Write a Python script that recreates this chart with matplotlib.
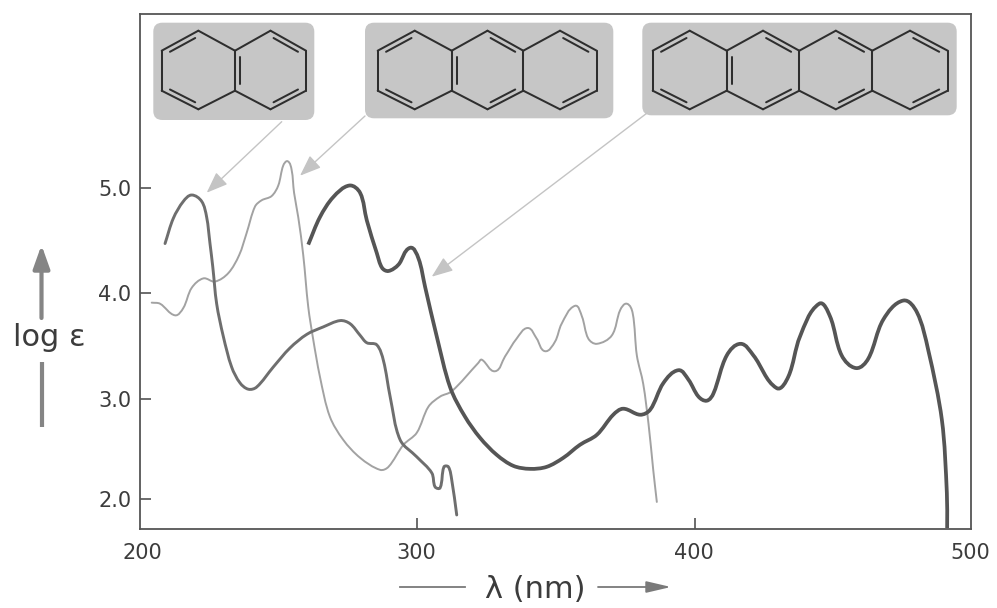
import numpy as np
import matplotlib
matplotlib.use("Agg")
import matplotlib.pyplot as plt
from matplotlib.patches import FancyBboxPatch, PathPatch
from matplotlib.path import Path

# ---------- data ----------
naph_x = [209.2,212.2,215.8,218.8,222.4,224.2,225.4,226.4,227.8,230.2,233.2,236.2,239.2,242.2,248.2,254.2,260.3,266.2,272.3,275.9,279.5,281.9,285.5,287.9,290.3,293.9,299.9,305.3,306.5,308.3,309.7,311.3,312.5,314.3]
naph_y = [4.47,4.71,4.87,4.93,4.87,4.72,4.47,4.25,3.90,3.59,3.30,3.15,3.09,3.11,3.30,3.48,3.61,3.68,3.74,3.71,3.60,3.53,3.51,3.36,3.02,2.59,2.42,2.26,2.12,2.11,2.32,2.32,2.19,1.84]

anth_x = [204.4,207.4,212.8,215.8,218.8,223.0,227.2,232.0,235.9,238.6,241.6,244.0,247.6,250.0,251.8,253.4,254.8,255.7,257.2,259.0,260.8,262.6,265.0,268.6,273.4,279.5,286.7,289.7,295.1,299.9,304.1,308.3,312.5,322.1,323.3,328.1,331.7,335.9,339.9,343.1,346.1,349.7,352.1,356.9,359.4,361.7,364.8,370.2,373.2,375.6,377.7,379.2,381.5,383.4,385.1,386.4]
anth_y = [3.91,3.90,3.79,3.86,4.05,4.14,4.11,4.19,4.36,4.57,4.82,4.88,4.92,5.02,5.21,5.25,5.17,4.95,4.72,4.36,3.87,3.56,3.21,2.82,2.59,2.41,2.29,2.32,2.54,2.66,2.92,3.02,3.07,3.34,3.37,3.26,3.40,3.57,3.67,3.57,3.45,3.54,3.71,3.88,3.78,3.57,3.52,3.60,3.84,3.90,3.81,3.41,3.14,2.75,2.29,1.97]

tetra_x = [260.8,265.0,269.8,275.6,279.5,281.9,285.5,287.4,289.7,293.3,297.5,300.5,302.9,307.1,311.9,317.3,322.7,328.7,334.7,340.7,346.7,352.7,358.7,364.8,370.7,374.3,380.4,384.0,388.8,394.2,397.8,401.4,404.4,406.8,411.6,416.6,421.2,429.6,433.8,438.0,444.9,448.8,453.0,458.2,462.6,468.0,475.2,480.1,484.2,489.1,490.9,491.0]
tetra_y = [4.46,4.72,4.91,5.02,4.95,4.69,4.38,4.24,4.21,4.27,4.43,4.33,4.06,3.59,3.11,2.82,2.61,2.44,2.33,2.30,2.32,2.41,2.54,2.64,2.84,2.90,2.84,2.89,3.15,3.27,3.18,3.02,2.98,3.05,3.41,3.52,3.41,3.10,3.21,3.59,3.90,3.78,3.41,3.29,3.38,3.75,3.93,3.82,3.46,2.79,2.06,1.71]

x_ticks = [200, 300, 400, 500]
y_ticks = [2.0, 3.0, 4.0, 5.0]
y_tick_labels = ["2.0", "3.0", "4.0", "5.0"]
x_label = "λ (nm)"
y_label = "log ε"

W, H = 997, 608
GREY_TXT = "#3c3c3c"
TICK_FS = 15
plt.rcParams["font.family"] = ["DejaVu Sans"]

fig = plt.figure(figsize=(W / 100, H / 100), dpi=100, facecolor="white")
L, R, T, B = 139.5, 971.0, 13.5, 529.0
ax = fig.add_axes([L / W, 1 - B / H, (R - L) / W, (B - T) / H])

# the printed log-axis ticks are not quite evenly spaced
def fwd(v):
    v = np.asarray(v, dtype=float)
    return np.where(v >= 3, (v - 3) * 105.6, (v - 3) * 100.3)
def inv(u):
    u = np.asarray(u, dtype=float)
    return np.where(u >= 0, 3 + u / 105.6, 3 + u / 100.3)
ax.set_yscale("function", functions=(fwd, inv))

def smooth_curve(xs, ys, color, lw, cap="round"):
    """Bezier curve through the read points: the points are the data, only the joins are rounded."""
    p = np.column_stack([xs, ys], ).astype(float)
    scale = np.array([2.775, 105.0])
    q = p * scale
    d = np.zeros_like(q)
    d[1:-1] = q[2:] - q[:-2]
    d[0] = q[1] - q[0]
    d[-1] = q[-1] - q[-2]
    d /= np.maximum(np.linalg.norm(d, axis=1, keepdims=True), 1e-9)
    verts, codes = [tuple(p[0])], [Path.MOVETO]
    for i in range(len(q) - 1):
        h = np.linalg.norm(q[i + 1] - q[i]) * 0.33
        c1 = (q[i] + d[i] * h) / scale
        c2 = (q[i + 1] - d[i + 1] * h) / scale
        verts += [tuple(c1), tuple(c2), tuple(p[i + 1])]
        codes += [Path.CURVE4] * 3
    ax.add_patch(PathPatch(Path(verts, codes), fill=False, edgecolor=color, lw=lw,
                           capstyle=cap, joinstyle="round"))

smooth_curve(anth_x, anth_y, "#a2a2a2", 1.4)
smooth_curve(naph_x, naph_y, "#6e6e6e", 2.1)
smooth_curve(tetra_x, tetra_y, "#555555", 2.7, cap="butt")

ax.set_xlim(200, 499.6)
ax.set_ylim(1.70, 6.65)
ax.set_xticks(x_ticks[1:3])
ax.set_yticks(y_ticks, y_tick_labels)
ax.tick_params(axis="both", direction="in", length=8, width=1.1, color="#444444",
               labelcolor=GREY_TXT, labelsize=TICK_FS)
ax.tick_params(axis="y", pad=6)
ax.set_xticklabels([])
for s in ax.spines.values():
    s.set_color("#555555")
    s.set_linewidth(1.3)

# ---------- overlay in reference pixel space ----------
ov = fig.add_axes([0, 0, 1, 1], facecolor="none")
ov.set_xlim(0, W)
ov.set_ylim(H, 0)
ov.axis("off")

for lab, px in zip(x_ticks, [142, 416, 694, 970]):
    ov.text(px, 553, str(lab), ha="center", va="center", fontsize=TICK_FS, color=GREY_TXT)

ov.text(535, 590, x_label, ha="center", va="center", fontsize=22, color=GREY_TXT)
ov.text(49.5, 338, y_label, ha="center", va="center", fontsize=22, color=GREY_TXT)

# axis-title arrows
ov.plot([400, 465], [587, 587], color="#7a7a7a", lw=1.3)
ov.annotate("", xy=(671, 587), xytext=(598, 587),
            arrowprops=dict(arrowstyle="-|>,head_length=1.5,head_width=0.35", color="#7a7a7a", lw=1.3, shrinkA=0, shrinkB=0))
ov.plot([41.5, 41.5], [362, 427], color="#858585", lw=3.0, solid_capstyle="butt")
ov.annotate("", xy=(41.5, 245), xytext=(41.5, 318),
            arrowprops=dict(arrowstyle="-|>,head_length=1.4,head_width=0.5", color="#858585", lw=3.0, shrinkA=0, shrinkB=0))

# molecule panels
panels = [(153.3, 314.3, 22.7, 120.0), (365.0, 613.3, 22.7, 118.3), (642.3, 956.7, 22.7, 115.3)]
for x0, x1, y0, y1 in panels:
    r = 9
    ov.add_patch(FancyBboxPatch((x0 + r, y0 + r), x1 - x0 - 2 * r, y1 - y0 - 2 * r,
                                boxstyle=f"round,pad={r},rounding_size={r}",
                                fc="#c6c6c6", ec="none", zorder=1))

BOND = "#2e2e2e"
def seg(a, b, lw=1.45):
    ov.plot([a[0], b[0]], [a[1], b[1]], color=BOND, lw=lw, zorder=3, solid_capstyle="round")

def inner(a, b, c, f=0.14, t=0.1):
    a, b, c = map(np.asarray, (a, b, c))
    p = a + (b - a) * t
    q = b + (a - b) * t
    seg(p + (c - p) * f, q + (c - q) * f)

def molecule(xs, inner_flags):
    yt, yu, yl, yb = 30.7, 50.7, 90.7, 109.3
    for i in range(len(xs) - 1):
        xl, xr = xs[i], xs[i + 1]
        xm = (xl + xr) / 2
        c = (xm, (yu + yl) / 2)
        UL, TP, UR, LR, BT, LL = (xl, yu), (xm, yt), (xr, yu), (xr, yl), (xm, yb), (xl, yl)
        seg(LL, UL); seg(UL, TP); seg(TP, UR); seg(UR, LR); seg(LR, BT); seg(BT, LL)
        for k in inner_flags[i]:
            if k == "UL": inner(UL, TP, c)
            if k == "UR": inner(TP, UR, c)
            if k == "LL": inner(LL, BT, c)
            if k == "LR": inner(BT, LR, c)
            if k == "JL": inner(UL, LL, c, f=0.14, t=0.1)

molecule([161.7, 235.0, 306.0], [("UL", "LL"), ("JL", "UR", "LR")])
molecule([377.7, 451.7, 523.3, 596.7], [("UL", "LL"), ("JL", "UR", "LR"), ("UR", "LR")])
molecule([652.7, 726.7, 799.3, 872.3, 947.7], [("UL", "LL"), ("JL", "UR", "LR"), ("UR", "LR"), ("UR", "LR")])

# pointers from panels to curves
for start, tip in [((281.7, 121.7), (206.7, 192.7)),
                   ((365.0, 116.0), (300.0, 175.7)),
                   ((646.7, 113.3), (431.7, 276.7))]:
    ov.annotate("", xy=tip, xytext=start, zorder=2,
                arrowprops=dict(arrowstyle="-|>,head_length=1.3,head_width=0.5", color="#c4c4c4",
                                lw=1.0, shrinkA=0, shrinkB=0))

fig.savefig("out.png", dpi=100, facecolor="white")
